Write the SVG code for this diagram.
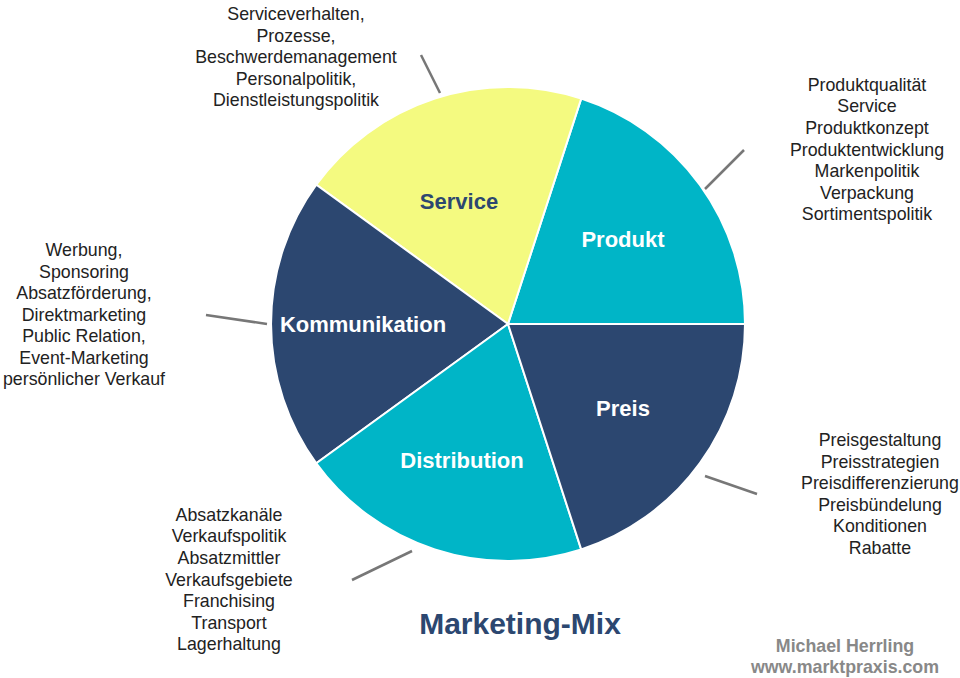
<svg xmlns="http://www.w3.org/2000/svg" width="960" height="678" viewBox="0 0 960 678">
<style>
.t{font-family:"Liberation Sans",Arial,sans-serif;font-size:17.8px;fill:#222;text-anchor:middle}
.l{font-family:"Liberation Sans",Arial,sans-serif;font-size:22px;font-weight:bold;text-anchor:middle}
.s{stroke:#fff;stroke-width:2}
.ld{stroke:#777;stroke-width:2.5}
</style>
<rect width="960" height="678" fill="#fff"/>
<g id="produkt"><path class="s" d="M508,324 L745,324 A237,237 0 0 0 581.2,98.6 Z" fill="#00B5C7"/><text class="l" x="623" y="247" fill="#fff">Produkt</text></g>
<g id="service"><path class="s" d="M508,324 L581.2,98.6 A237,237 0 0 0 316.3,184.7 Z" fill="#F4FA80"/><text class="l" x="459" y="209" fill="#2C4770">Service</text></g>
<g id="kommunikation"><path class="s" d="M508,324 L316.3,184.7 A237,237 0 0 0 316.3,463.3 Z" fill="#2C4770"/><text class="l" x="363" y="332" fill="#fff">Kommunikation</text></g>
<g id="distribution"><path class="s" d="M508,324 L316.3,463.3 A237,237 0 0 0 581.2,549.4 Z" fill="#00B5C7"/><text class="l" x="462" y="468" fill="#fff">Distribution</text></g>
<g id="preis"><path class="s" d="M508,324 L581.2,549.4 A237,237 0 0 0 745,324 Z" fill="#2C4770"/><text class="l" x="623" y="416" fill="#fff">Preis</text></g>
<g id="connectors">
<line class="ld" x1="421" y1="55" x2="440" y2="93"/>
<line class="ld" x1="744" y1="150" x2="705" y2="189"/>
<line class="ld" x1="206" y1="315" x2="267" y2="324"/>
<line class="ld" x1="352" y1="580" x2="412" y2="551"/>
<line class="ld" x1="705" y1="476" x2="757" y2="494"/>
</g>
<g id="notes">
<text class="t" x="296" y="20">Serviceverhalten,</text>
<text class="t" x="296" y="42">Prozesse,</text>
<text class="t" x="296" y="63">Beschwerdemanagement</text>
<text class="t" x="296" y="85">Personalpolitik,</text>
<text class="t" x="296" y="106">Dienstleistungspolitik</text>
<text class="t" x="867" y="91">Produktqualität</text>
<text class="t" x="867" y="112">Service</text>
<text class="t" x="867" y="134">Produktkonzept</text>
<text class="t" x="867" y="156">Produktentwicklung</text>
<text class="t" x="867" y="177">Markenpolitik</text>
<text class="t" x="867" y="199">Verpackung</text>
<text class="t" x="867" y="220">Sortimentspolitik</text>
<text class="t" x="84" y="256">Werbung,</text>
<text class="t" x="84" y="278">Sponsoring</text>
<text class="t" x="84" y="299">Absatzförderung,</text>
<text class="t" x="84" y="321">Direktmarketing</text>
<text class="t" x="84" y="342">Public Relation,</text>
<text class="t" x="84" y="364">Event-Marketing</text>
<text class="t" x="84" y="385">persönlicher Verkauf</text>
<text class="t" x="880" y="446">Preisgestaltung</text>
<text class="t" x="880" y="468">Preisstrategien</text>
<text class="t" x="880" y="489">Preisdifferenzierung</text>
<text class="t" x="880" y="511">Preisbündelung</text>
<text class="t" x="880" y="532">Konditionen</text>
<text class="t" x="880" y="554">Rabatte</text>
<text class="t" x="229" y="521">Absatzkanäle</text>
<text class="t" x="229" y="542">Verkaufspolitik</text>
<text class="t" x="229" y="564">Absatzmittler</text>
<text class="t" x="229" y="586">Verkaufsgebiete</text>
<text class="t" x="229" y="607">Franchising</text>
<text class="t" x="229" y="629">Transport</text>
<text class="t" x="229" y="650">Lagerhaltung</text>
</g>
<text x="520" y="634" font-family="Liberation Sans,Arial,sans-serif" font-size="30" font-weight="bold" fill="#2C4770" text-anchor="middle">Marketing-Mix</text>
<text x="845" y="652" font-family="Liberation Sans,Arial,sans-serif" font-size="17.8" font-weight="bold" fill="#888" text-anchor="middle">Michael Herrling</text>
<text x="845" y="673" font-family="Liberation Sans,Arial,sans-serif" font-size="17.8" font-weight="bold" fill="#888" text-anchor="middle">www.marktpraxis.com</text>
</svg>
